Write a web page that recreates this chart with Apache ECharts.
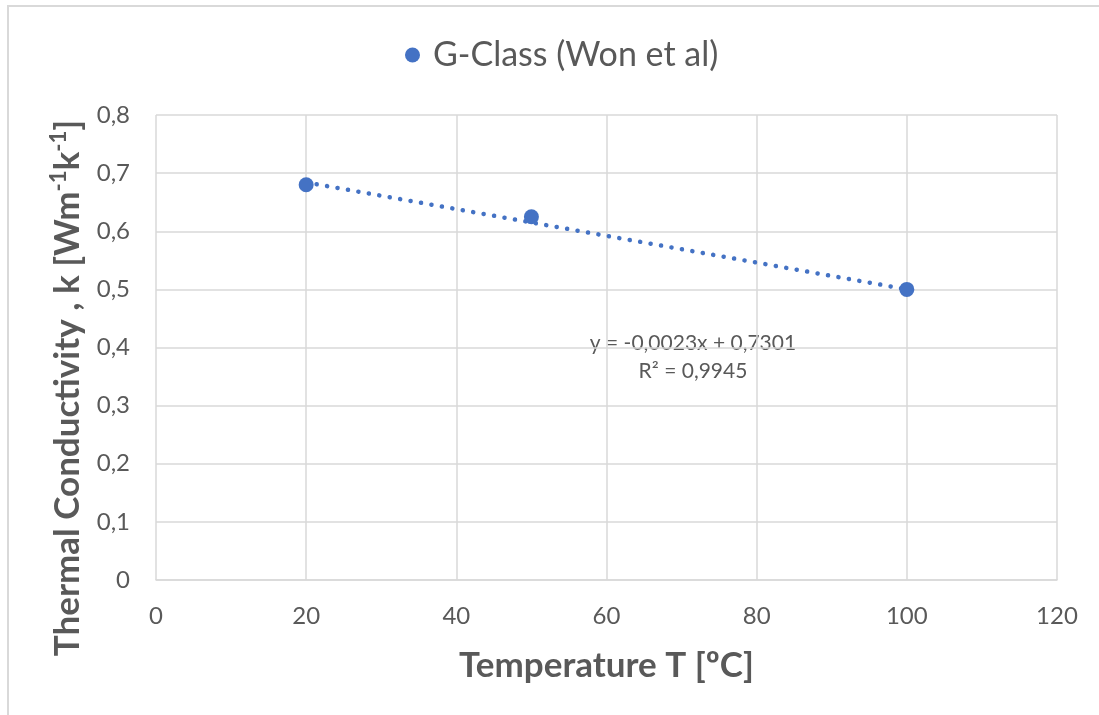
<!DOCTYPE html>
<html>
<head>
<meta charset="utf-8">
<script src="https://cdn.jsdelivr.net/npm/echarts@6/dist/echarts.min.js"></script>
<style>
  html, body { margin: 0; padding: 0; background: #fff; }
  #chart { width: 1099px; height: 715px; }
</style>
</head>
<body>
<div id="chart"></div>
<script>
// Measured thermal conductivity of G-Class cement
const seriesName = 'G-Class (Won et al)';
const temperatures = [20, 50, 100];          // °C
const conductivity = [0.68, 0.625, 0.5];     // W m^-1 K^-1

// Linear trendline as reported in the equation label
const trendSlope = -0.0023;
const trendIntercept = 0.7301;
const trendR2 = 0.9945;
const trendRange = [20, 100];

const xTicks = { min: 0, max: 120, interval: 20 };
const yTicks = { min: 0, max: 0.8, interval: 0.1 };

const textColor = '#595959';
const gridColor = '#d9d9d9';
const markColor = '#4472C4';
const fontFamily = 'Lato, "Open Sans", sans-serif';

const fmtComma = (v, digits) => v.toFixed(digits).replace('.', ',');
const trendData = trendRange.map(x => [x, trendSlope * x + trendIntercept]);

const chart = echarts.init(document.getElementById('chart'), null, { renderer: 'canvas' });

chart.setOption({
  backgroundColor: '#fff',
  animation: false,
  textStyle: { fontFamily: fontFamily },
  legend: {
    data: [{ name: seriesName, icon: 'circle', itemStyle: { color: markColor, opacity: 1 } }],
    top: 33,
    left: 400,
    itemWidth: 15,
    itemHeight: 15,
    itemGap: 10,
    textStyle: { color: textColor, fontSize: 34, fontFamily: fontFamily, padding: [0, 0, 0, 8] }
  },
  grid: { left: 156, right: 42, top: 115, bottom: 135 },
  xAxis: {
    type: 'value',
    min: xTicks.min, max: xTicks.max, interval: xTicks.interval,
    axisLine: { show: true, lineStyle: { color: gridColor, width: 1.5 } },
    axisTick: { show: false },
    splitLine: { show: true, lineStyle: { color: gridColor, width: 1.5 } },
    axisLabel: { color: textColor, fontSize: 24, margin: 24, fontFamily: fontFamily },
    name: 'Temperature T [ºC]',
    nameLocation: 'middle',
    nameGap: 68,
    nameTextStyle: { color: textColor, fontSize: 35, fontWeight: 'bold', fontFamily: fontFamily }
  },
  yAxis: {
    type: 'value',
    min: yTicks.min, max: yTicks.max, interval: yTicks.interval,
    axisLine: { show: false },
    axisTick: { show: false },
    splitLine: { show: true, lineStyle: { color: gridColor, width: 1.5 } },
    axisLabel: {
      color: textColor, fontSize: 24, margin: 26, fontFamily: fontFamily,
      formatter: v => (v === 0 ? '0' : fmtComma(v, 1))
    }
  },
  graphic: [
    {
      type: 'rect',
      shape: { x: 8, y: 6, width: 1120, height: 740 },
      style: { fill: 'none', stroke: gridColor, lineWidth: 2 },
      silent: true, z: -10
    },
    {
      type: 'text',
      x: 68, y: 388,
      rotation: Math.PI / 2,
      style: {
        text: '{t|Thermal Conductivity , k [Wm}{s|-1}{t|k}{s|-1}{t|]}',
        align: 'center', verticalAlign: 'middle',
        rich: {
          t: { fontSize: 35, fontWeight: 'bold', fill: textColor, fontFamily: fontFamily },
          s: { fontSize: 22, fontWeight: 'bold', fill: textColor, fontFamily: fontFamily,
               verticalAlign: 'top', padding: [0, 0, 18, 0] }
        }
      }
    },
    {
      type: 'text',
      x: 693, y: 343,
      style: {
        text: 'y = ' + fmtComma(trendSlope, 4) + 'x + ' + fmtComma(trendIntercept, 4),
        align: 'center', verticalAlign: 'middle',
        fill: textColor, fontSize: 21, fontFamily: fontFamily
      }
    },
    {
      type: 'text',
      x: 693, y: 371,
      style: {
        text: 'R² = ' + fmtComma(trendR2, 4),
        align: 'center', verticalAlign: 'middle',
        fill: textColor, fontSize: 21, fontFamily: fontFamily
      }
    }
  ],
  series: [
    {
      name: 'trend',
      type: 'line',
      data: trendData,
      showSymbol: false,
      symbol: 'none',
      silent: true,
      lineStyle: { color: markColor, width: 4.5, type: [0.1, 10.5], cap: 'round' },
      z: 2
    },
    {
      name: seriesName,
      type: 'scatter',
      data: temperatures.map((t, i) => [t, conductivity[i]]),
      symbol: 'circle',
      symbolSize: 15,
      itemStyle: { color: markColor, opacity: 1 },
      z: 3
    }
  ]
});
</script>
</body>
</html>
